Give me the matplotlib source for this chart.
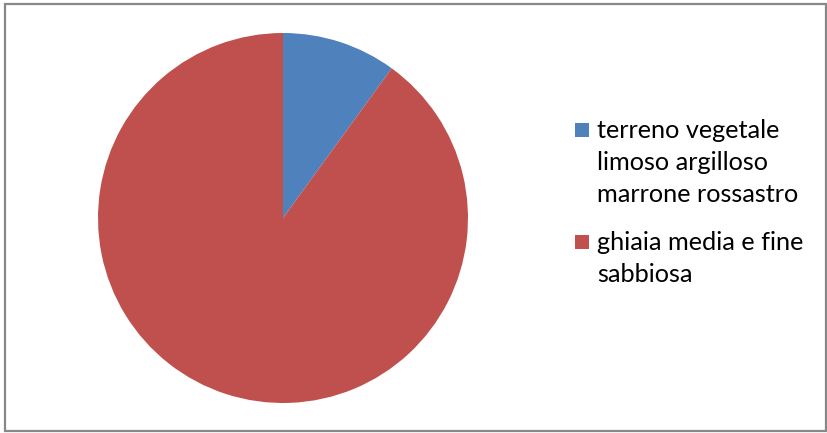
import matplotlib.pyplot as plt
from matplotlib.patches import Rectangle

# data
labels = ["terreno vegetale\nlimoso argilloso\nmarrone rossastro", "ghiaia media e fine\nsabbiosa"]
values = [10, 90]
colors = ["#4F81BD", "#C0504D"]

W, H = 827, 433
fig = plt.figure(figsize=(W / 100, H / 100), dpi=100)

# pie: centre (283, 218) px, radius 185 px
cx, cy, r = 283, 218, 185
ax = fig.add_axes([(cx - r) / W, (H - cy - r) / H, 2 * r / W, 2 * r / H])
ax.pie(values, colors=colors, startangle=90, counterclock=False, radius=1,
       wedgeprops=dict(linewidth=0))
ax.set_xlim(-1, 1)
ax.set_ylim(-1, 1)
ax.set_aspect("equal")
ax.axis("off")

# legend drawn by hand so the marker sits on the first line
def px(x, y):
    return x / W, 1 - y / H

first_baselines = [138, 250]
line_step = 32
for lab, col, base in zip(labels, colors, first_baselines):
    mx, my = px(575, base - 1)
    fig.patches.append(Rectangle((mx, my), 14 / W, 14 / H, transform=fig.transFigure,
                                 facecolor=col, edgecolor="none"))
    for i, line in enumerate(lab.split("\n")):
        tx, ty = px(597, base + i * line_step)
        fig.text(tx, ty, line, family="Lato", fontsize=18.2, va="baseline",
                 ha="left", color="#000000")

# chart border
fig.patches.append(Rectangle((4.5 / W, 2 / H), (826 - 4.5) / W, (429 - 2) / H,
                             transform=fig.transFigure, fill=False,
                             edgecolor="#888888", linewidth=1.6))

fig.savefig("out.png", dpi=100)
